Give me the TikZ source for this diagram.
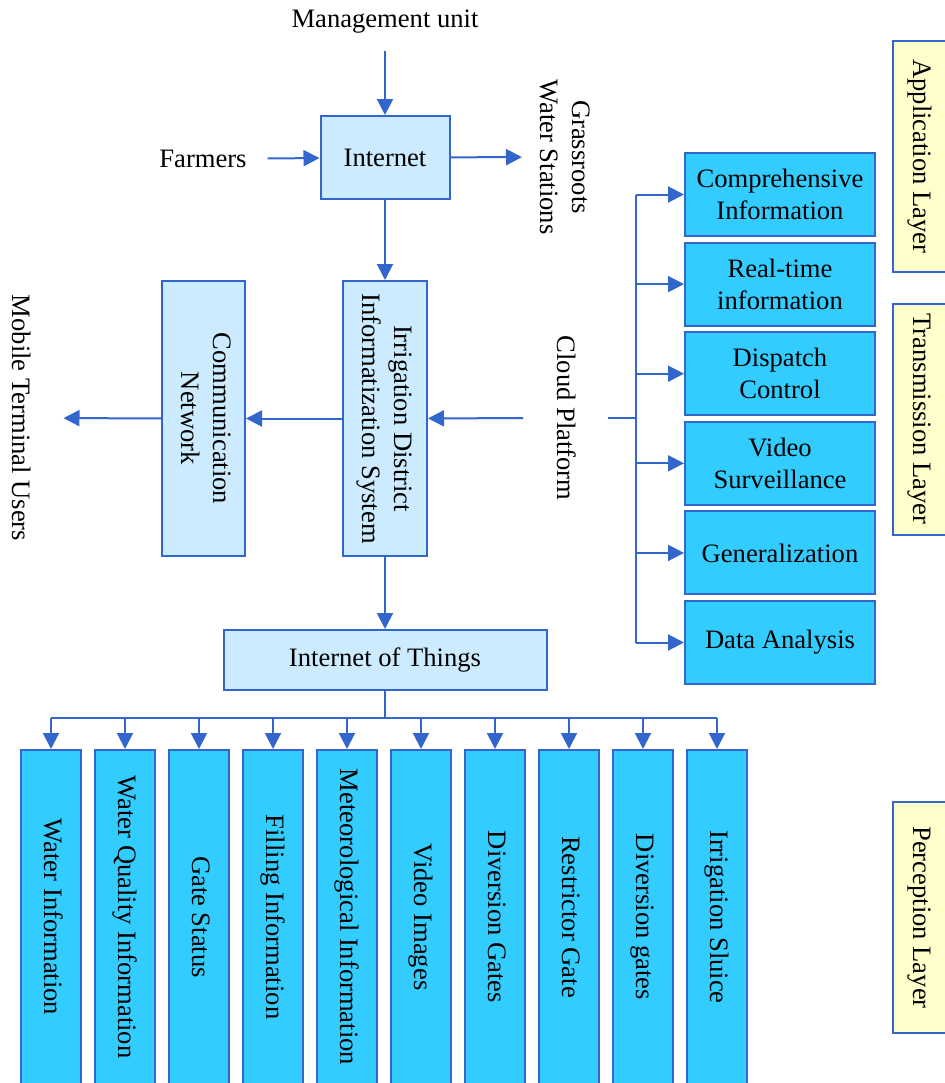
\documentclass[tikz,border=0pt]{standalone}
\usepackage{fontspec}
\setmainfont{Liberation Serif}
\usepackage{graphicx}
\usetikzlibrary{arrows.meta,calc}

\definecolor{boxline}{RGB}{51,102,204}
\definecolor{paleblue}{RGB}{204,235,255}
\definecolor{skyblue}{RGB}{51,204,255}
\definecolor{paleyellow}{RGB}{255,255,204}

\newcommand{\vtext}[1]{\rotatebox{-90}{\begin{tabular}{@{}c@{}}#1\end{tabular}}}

\begin{document}
\begin{tikzpicture}[x=0.5pt, y=-0.5pt, align=center,
  every node/.style={font=\fontsize{13.3}{16}\selectfont},
  every path/.style={line width=1pt},
  lbl/.style={inner sep=0pt},
  arr/.style={draw=boxline, -{Triangle[length=8pt,width=8pt]}},
  wire/.style={draw=boxline},
  pale/.style={draw=boxline, fill=paleblue, inner sep=0pt},
  infobox/.style={draw=boxline, fill=skyblue, inner sep=0pt},
  layer/.style={draw=boxline, fill=paleyellow, inner sep=0pt, minimum width=27pt, minimum height=115.5pt}]
\useasboundingbox (0,0) rectangle (944,1083);

\node (mgmt) [lbl] at (385,22) {Management unit};
\node (farmers) [lbl] at (203,159) {Farmers};
\node (inet) [pale, minimum width=64.5pt, minimum height=41.5pt] at (385,157.5) {Internet};
\node (grass) [lbl] at (563,157) {\vtext{Grassroots\\Water Stations}};

\draw[arr, shorten <=8pt] (mgmt) -- (inet);
\draw[arr, shorten <=10pt] (farmers) -- (inet);
\draw[arr, shorten >=4pt] (inet) -- (grass);

% -------------------------------

\node (comm) [pale, minimum width=41.5pt, minimum height=137.5pt] at (203.5,418.5) {\vtext{Communication\\Network}};
\node (idis) [pale, minimum width=42pt, minimum height=137.5pt] at (385,418.5) {\vtext{Irrigation District\\Informatization System}};
\node (cloud) [lbl] at (563.5,418) {\vtext{Cloud Platform}};
\node (mobile) [lbl] at (18.5,418) {\vtext{Mobile Terminal Users}};

\draw[arr] (inet) -- (idis);
\draw[arr, shorten <=11.75pt] (cloud) -- (idis);
\draw[arr] (idis) -- (comm);
\draw[arr, shorten >=14pt] (comm) -- (mobile);

% -------------------------------

\foreach \name [count=\i] in {Comprehensive\\Information, Real-time\\information, Dispatch\\Control, Video\\Surveillance, Generalization, Data Analysis}
  \node (app\i) [infobox, minimum width=95pt, minimum height=41.5pt] at (780,{104.9+89.6*\i}) {\name};

\coordinate (split) at (636,418);
\draw[wire, shorten <=13.75pt] (cloud) -- (split);
\draw[wire] (app1 -| split) -- (app6 -| split);
\foreach \i in {1,...,6}
  \draw[arr] (app\i -| split) -- (app\i);

% -------------------------------

\node (iot) [pale, minimum width=161.5pt, minimum height=30pt] at (385,660) {Internet of Things};
\draw[arr] (idis) -- (iot);

\foreach \name [count=\i] in {Water Information, Water Quality Information, Gate Status, Filling Information, Meteorological Information, Video Images, Diversion Gates, Restrictor Gate, Diversion gates, Irrigation Sluice}
  \node (sense\i) [infobox, minimum width=30pt, minimum height=167pt] at ({-23+74*\i},917) {\vtext{\name}};

\coordinate (bus) at (385,718);
\draw[wire] (iot) -- (bus);
\draw[wire] (sense1 |- bus) -- (sense10 |- bus);
\foreach \i in {1,...,10}
  \draw[arr] (sense\i |- bus) -- (sense\i);

% -------------------------------

\node (lay1) [layer] at (920,156.5) {\vtext{Application Layer}};
\node (lay2) [layer] at (920,419) {\vtext{Transmission Layer}};
\node (lay3) [layer] at (920,917.5) {\vtext{Perception Layer}};
\end{tikzpicture}
\end{document}
